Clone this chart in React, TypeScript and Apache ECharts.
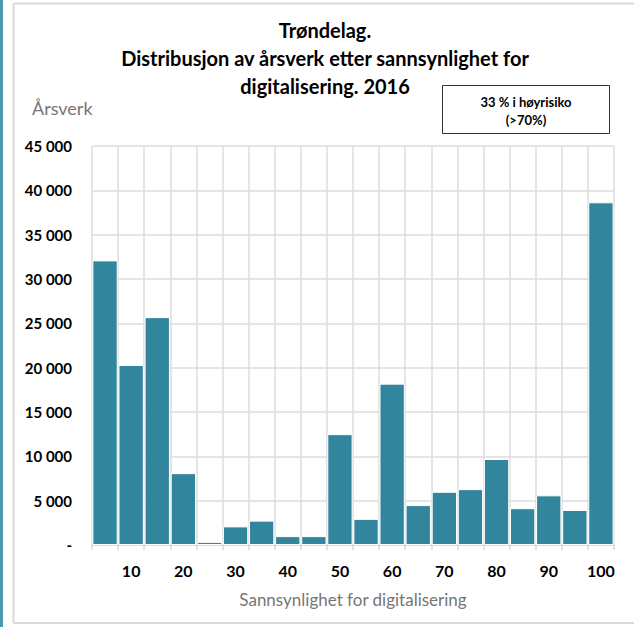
import React, { useEffect, useRef } from "react";
import * as echarts from "echarts";

const categories = ["5", "10", "15", "20", "25", "30", "35", "40", "45", "50", "55", "60", "65", "70", "75", "80", "85", "90", "95", "100"];
const arsverk = [32100, 20300, 25700, 8100, 350, 2100, 2750, 1000, 1000, 12500, 2950, 18200, 4500, 6000, 6300, 9700, 4150, 5600, 3950, 38650];
const yTicks = { min: 0, max: 45000, interval: 5000 };
const titleLines = ["Trøndelag.", "Distribusjon av årsverk etter sannsynlighet for", "digitalisering. 2016"];
const boxLines = ["33 % i høyrisiko", "(>70%)"];

const FONT = "Lato, 'Open Sans', sans-serif";

function fmt(v: number) {
  if (v === 0) return "-";
  return String(v).replace(/\B(?=(\d{3})+(?!\d))/g, " ");
}

export default function App() {
  const ref = useRef<HTMLDivElement>(null);
  useEffect(() => {
    if (!ref.current) return;
    const chart = echarts.init(ref.current, null, { renderer: "svg" });
    chart.setOption({
      animation: false,
      backgroundColor: "#ffffff",
      grid: { left: 92, right: 20, top: 146, bottom: 82 },
      xAxis: {
        type: "category",
        data: categories,
        name: "Sannsynlighet for digitalisering",
        nameLocation: "middle",
        nameGap: 46,
        nameTextStyle: { color: "#767676", fontSize: 17, fontFamily: FONT },
        axisLine: { show: true, lineStyle: { color: "#d9d9d9", width: 1.5 } },
        axisTick: { show: true, interval: 0, length: 5, lineStyle: { color: "#d9d9d9", width: 1.5 } },
        splitLine: { show: true, interval: 0, lineStyle: { color: "#dcdcdc", width: 1.5 } },
        axisLabel: {
          interval: 0,
          margin: 17,
          color: "#000",
          fontWeight: "bold",
          fontSize: 16,
          fontFamily: FONT,
          formatter: (v: string) => (Number(v) % 10 === 0 ? v : ""),
        },
      },
      yAxis: {
        type: "value",
        min: yTicks.min,
        max: yTicks.max,
        interval: yTicks.interval,
        axisLine: { show: false },
        axisTick: { show: false },
        splitLine: { show: true, lineStyle: { color: "#dcdcdc", width: 1.5 } },
        axisLabel: {
          margin: 20,
          color: "#000",
          fontWeight: "bold",
          fontSize: 15,
          fontFamily: FONT,
          formatter: (v: number) => fmt(v),
        },
      },
      series: [
        {
          type: "bar",
          data: arsverk,
          barCategoryGap: "3%",
          itemStyle: { color: "#31859C", borderColor: "#ffffff", borderWidth: 1 },
        },
      ],
      graphic: [
        { type: "rect", shape: { x: 0, y: 0, width: 3, height: 627 }, style: { fill: "#4a9bb0" }, silent: true },
        { type: "line", shape: { x1: 13.5, y1: 3.5, x2: 13.5, y2: 623 }, style: { stroke: "#d9d9d9", lineWidth: 2 } },
        { type: "line", shape: { x1: 13.5, y1: 3.5, x2: 634, y2: 3.5 }, style: { stroke: "#d9d9d9", lineWidth: 2 } },
        { type: "line", shape: { x1: 13.5, y1: 623, x2: 634, y2: 623 }, style: { stroke: "#d9d9d9", lineWidth: 2 } },
        ...titleLines.map((t, i) => ({
          type: "text",
          x: 325,
          y: 30 + i * 28,
          style: { text: t, fill: "#000", font: `bold 20px ${FONT}`, align: "center", verticalAlign: "middle" },
        })),
        { type: "text", x: 32, y: 108, style: { text: "Årsverk", fill: "#767676", font: `18px ${FONT}`, align: "left", verticalAlign: "middle" } },
        { type: "rect", shape: { x: 442.5, y: 85.5, width: 167, height: 48 }, style: { fill: "#fff", stroke: "#333", lineWidth: 1 } },
        ...boxLines.map((t, i) => ({
          type: "text",
          x: 526,
          y: 102 + i * 18,
          style: { text: t, fill: "#000", font: `bold 13px ${FONT}`, align: "center", verticalAlign: "middle" },
        })),
      ],
    });
    return () => chart.dispose();
  }, []);
  return <div ref={ref} style={{ position: "absolute", left: 0, top: 0, width: 634, height: 627 }} />;
}
